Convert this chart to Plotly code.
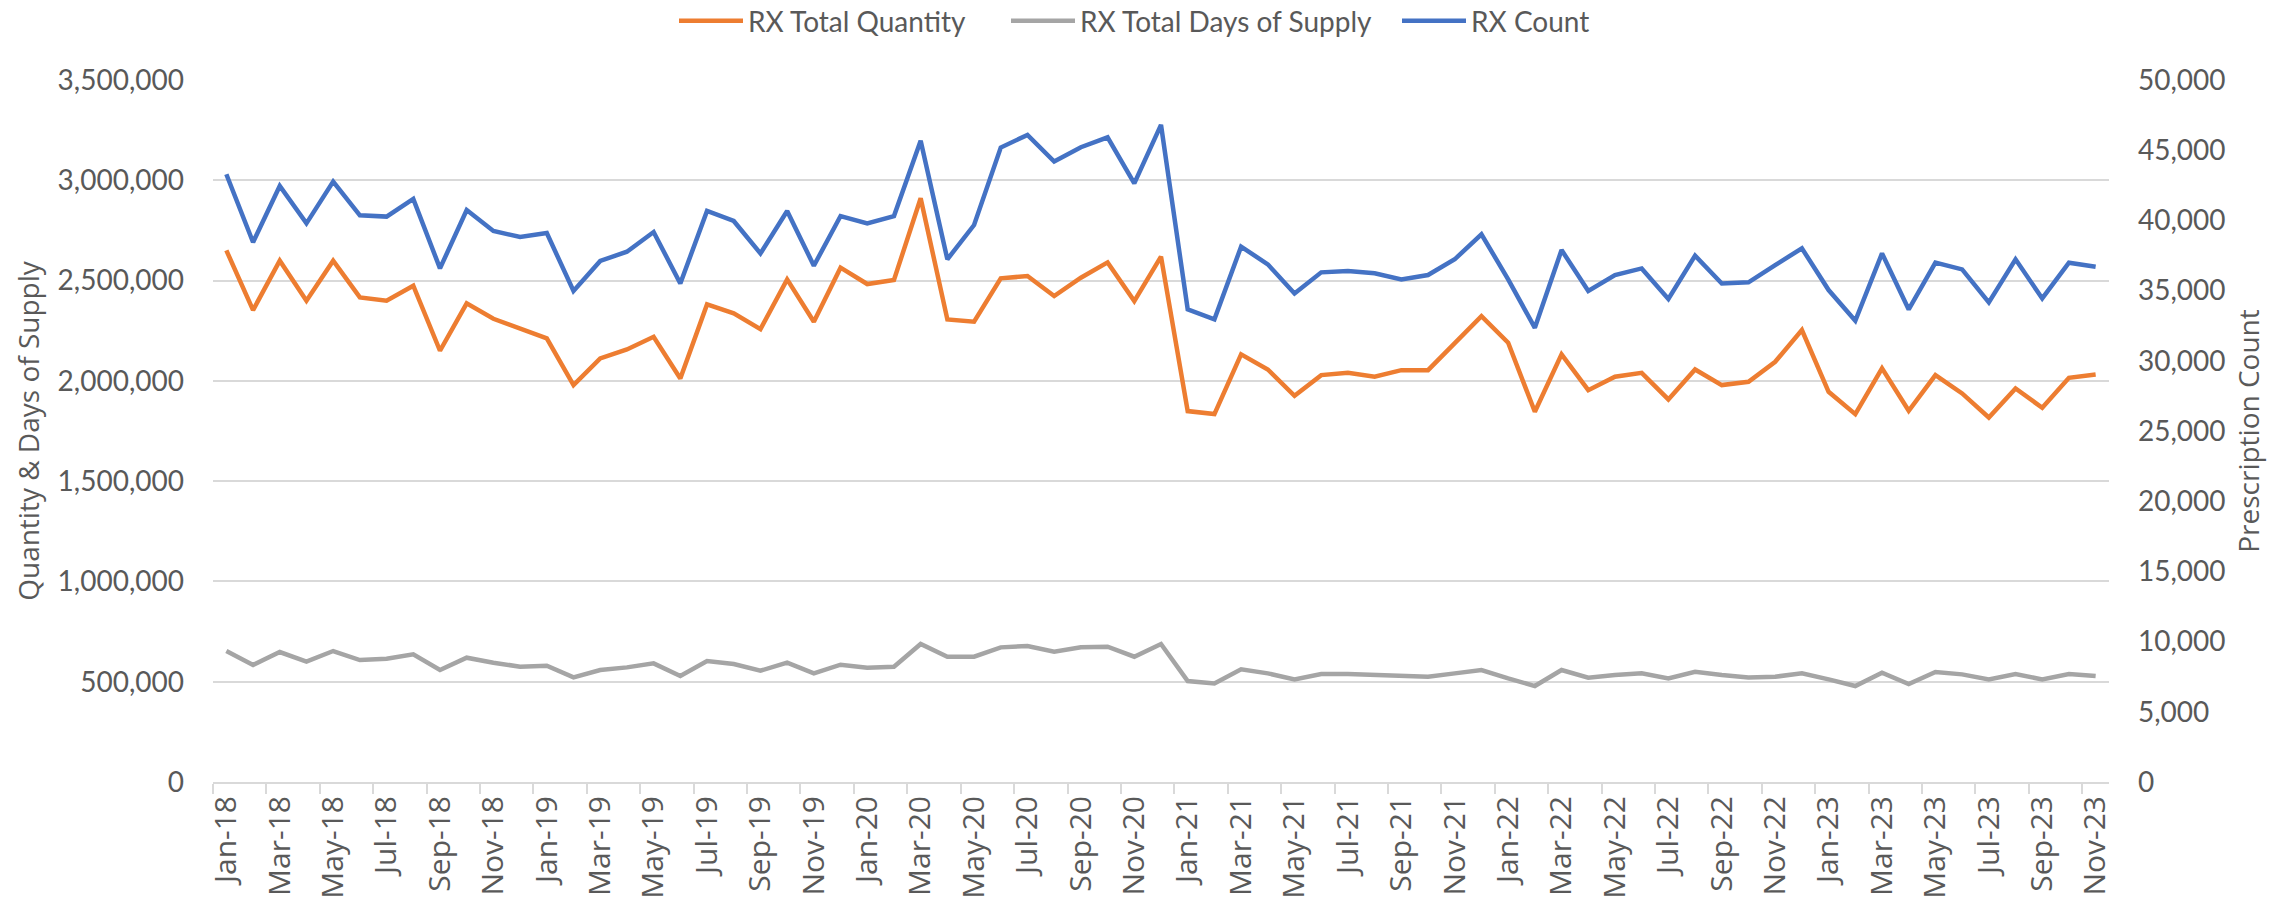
import plotly.graph_objects as go

months = [
    "Jan-18", "Feb-18", "Mar-18", "Apr-18", "May-18", "Jun-18", "Jul-18", "Aug-18", "Sep-18", "Oct-18", "Nov-18", "Dec-18",
    "Jan-19", "Feb-19", "Mar-19", "Apr-19", "May-19", "Jun-19", "Jul-19", "Aug-19", "Sep-19", "Oct-19", "Nov-19", "Dec-19",
    "Jan-20", "Feb-20", "Mar-20", "Apr-20", "May-20", "Jun-20", "Jul-20", "Aug-20", "Sep-20", "Oct-20", "Nov-20", "Dec-20",
    "Jan-21", "Feb-21", "Mar-21", "Apr-21", "May-21", "Jun-21", "Jul-21", "Aug-21", "Sep-21", "Oct-21", "Nov-21", "Dec-21",
    "Jan-22", "Feb-22", "Mar-22", "Apr-22", "May-22", "Jun-22", "Jul-22", "Aug-22", "Sep-22", "Oct-22", "Nov-22", "Dec-22",
    "Jan-23", "Feb-23", "Mar-23", "Apr-23", "May-23", "Jun-23", "Jul-23", "Aug-23", "Sep-23", "Oct-23", "Nov-23",
]

rx_total_quantity = [
    2650700, 2353000, 2599200, 2399500, 2599200, 2416200, 2399500, 2474400, 2150000, 2386200, 2309700, 2261400,
    2211500, 1978900, 2111800, 2156700, 2219800, 2012000, 2381200, 2336300, 2258100, 2506000, 2294700, 2564200,
    2482700, 2502700, 2910200, 2306300, 2294700, 2511000, 2522600, 2422800, 2514300, 2590800, 2397800, 2619100,
    1849200, 1834200, 2131900, 2056800, 1925600, 2028700, 2040200, 2020300, 2053500, 2053500, 2186600, 2322900,
    2189900, 1845800, 2131900, 1953700, 2020300, 2040200, 1907400, 2056800, 1978900, 1995300, 2095100, 2253100,
    1945500, 1834200, 2062100, 1850900, 2028700, 1937200, 1817300, 1962000, 1865900, 2015300, 2031900,
]

rx_total_days_supply = [
    653000, 583200, 648000, 599800, 653000, 608100, 614700, 636400, 558200, 619700, 594800, 574800,
    579800, 521600, 558200, 571500, 591500, 528300, 603100, 588100, 554900, 594800, 541600, 584800,
    569800, 574800, 687900, 624700, 624700, 671300, 678000, 649700, 671300, 674600, 624700, 687900,
    503300, 491700, 561500, 541600, 511600, 538200, 538200, 533300, 531600, 524900, 541600, 558200,
    516600, 478400, 558200, 520000, 533300, 541600, 516600, 549900, 533300, 521600, 524900, 541600,
    511600, 478400, 544900, 488400, 548200, 536600, 511600, 538200, 511600, 538200, 528300,
]

rx_count = [
    43290, 38440, 42450, 39790, 42760, 40360, 40270, 41530, 36580, 40740, 39250, 38820,
    39100, 34970, 37110, 37770, 39170, 35510, 40670, 39960, 37650, 40670, 36770, 40310,
    39790, 40310, 45680, 37230, 39670, 45190, 46090, 44190, 45210, 45920, 42640, 46800,
    33660, 32950, 38130, 36870, 34800, 36300, 36390, 36230, 35800, 36110, 37230, 39010,
    35800, 32350, 37890, 34970, 36110, 36580, 34400, 37490, 35510, 35590, 36820, 38010,
    35040, 32850, 37650, 33660, 36990, 36510, 34160, 37230, 34440, 36990, 36700,
]

ORANGE = "#ED7D31"
GRAY = "#A5A5A5"
BLUE = "#4472C4"
TEXT = "#595959"
GRID = "#D9D9D9"
CAL = "Lato, 'Open Sans', sans-serif"
SEG = "'Open Sans', 'DejaVu Sans', sans-serif"
W, H = 2292, 901

fig = go.Figure()
fig.add_trace(go.Scatter(x=months, y=rx_total_quantity, name="RX Total Quantity", mode="lines",
                         line=dict(color=ORANGE, width=4.5), yaxis="y", legend="legend"))
fig.add_trace(go.Scatter(x=months, y=rx_total_days_supply, name="RX Total Days of Supply", mode="lines",
                         line=dict(color=GRAY, width=4.5), yaxis="y", legend="legend2"))
fig.add_trace(go.Scatter(x=months, y=rx_count, name="RX Count", mode="lines",
                         line=dict(color=BLUE, width=4.5), yaxis="y2", legend="legend3"))


def leg(px):
    return dict(orientation="h", xref="container", yref="container",
                x=px / W, xanchor="left", y=1 - 21 / H, yanchor="middle",
                font=dict(family=CAL, size=28, color=TEXT), itemwidth=64,
                bgcolor="rgba(0,0,0,0)", borderwidth=0)


fig.update_layout(
    width=W, height=H,
    margin=dict(l=213, r=183, t=80, b=119, pad=0, autoexpand=False),
    paper_bgcolor="white", plot_bgcolor="white",
    showlegend=True,
    legend=leg(674),
    legend2=leg(1006),
    legend3=leg(1397),
    xaxis=dict(
        type="category", categoryorder="array", categoryarray=months,
        tickmode="linear", tick0=0, dtick=2, tickson="boundaries",
        ticks="outside", ticklen=10, tickwidth=2, tickcolor=GRID,
        tickangle=-90, tickfont=dict(family=SEG, size=30, color=TEXT),
        showline=True, linecolor=GRID, linewidth=2,
        showgrid=False, zeroline=False, range=[-0.5, 70.5],
    ),
    yaxis=dict(
        range=[0, 3500000], tickmode="linear", tick0=0, dtick=500000,
        tickformat=",d", showgrid=True, gridcolor=GRID, gridwidth=2,
        zeroline=False, showline=False, ticks="", ticklabelstandoff=28,
        tickfont=dict(family=CAL, size=28, color=TEXT),
        title=dict(text="Quantity & Days of Supply", font=dict(family=SEG, size=28, color=TEXT), standoff=9),
    ),
    yaxis2=dict(
        range=[0, 50000], tickmode="linear", tick0=0, dtick=5000,
        tickformat=",d", overlaying="y", side="right", showgrid=False,
        zeroline=False, showline=False, ticks="", ticklabelstandoff=28,
        tickfont=dict(family=CAL, size=28, color=TEXT),
        title=dict(text="Prescription Count", font=dict(family=SEG, size=28, color=TEXT), standoff=14),
    ),
)

fig.write_html(
    "out.html",
    config=dict(displayModeBar=False),
    post_script="document.documentElement.style.margin='0';document.body.style.margin='0';"
                "document.body.style.overflow='hidden';",
)
